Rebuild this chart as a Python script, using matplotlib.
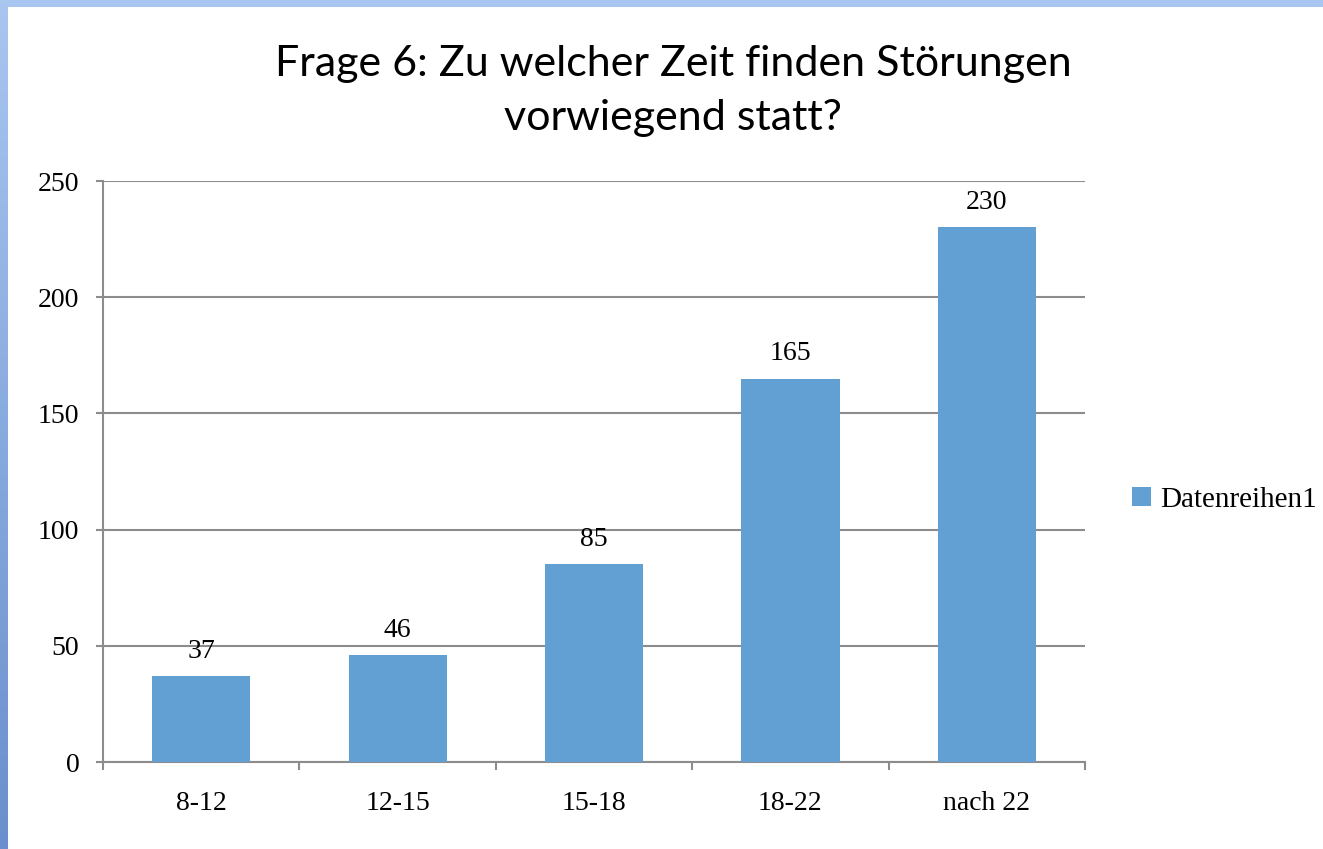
import numpy as np
import matplotlib
matplotlib.use("Agg")
import matplotlib.pyplot as plt
from matplotlib.colors import LinearSegmentedColormap

# data
categories = ["8-12", "12-15", "15-18", "18-22", "nach 22"]
values = [37, 46, 85, 165, 230]
series_name = "Datenreihen1"
title = "Frage 6: Zu welcher Zeit finden Störungen\nvorwiegend statt?"

bar_color = "#629fd3"
grid_color = "#8c8c8c"
serif = ["Liberation Serif", "DejaVu Serif"]

fig = plt.figure(figsize=(13.23, 8.49), dpi=100)

## slide frame: blue strip on top, gradient on the left
top = fig.add_axes([0, 1 - 7 / 849, 1, 7 / 849])
top.set_facecolor("#a9c6f0")
top.set_xticks([]); top.set_yticks([])
for s in top.spines.values():
    s.set_visible(False)

side = fig.add_axes([0, 0, 8 / 1323, 1])
cmap = LinearSegmentedColormap.from_list("frame", ["#a9c6f0", "#6a8fcc"])
side.imshow(np.linspace(0, 1, 200).reshape(-1, 1), aspect="auto", cmap=cmap)
side.axis("off")

## chart
ax = fig.add_axes([103 / 1323, 1 - 762 / 849, 982 / 1323, 581 / 849])
x = np.arange(len(categories))
bars = ax.bar(x, values, width=0.5, color=bar_color, label=series_name, zorder=3)

ax.set_xlim(-0.5, len(categories) - 0.5)
ax.set_ylim(0, 250)
ax.set_yticks(range(0, 251, 50))
ax.yaxis.grid(True, color=grid_color, linewidth=1.5, zorder=0)
ax.set_axisbelow(True)

for s in ["top", "right"]:
    ax.spines[s].set_visible(False)
for s in ["left", "bottom"]:
    ax.spines[s].set_color(grid_color)
    ax.spines[s].set_linewidth(1.5)

# x ticks sit between the categories, labels in the middle
ax.set_xticks(np.arange(-0.5, len(categories)), minor=False)
ax.set_xticklabels([])
ax.set_xticks(x, minor=True)
ax.set_xticklabels(categories, minor=True, family=serif, fontsize=20)
ax.tick_params(axis="x", which="major", length=6, width=1.5, color=grid_color)
ax.tick_params(axis="x", which="minor", length=0, pad=21)
ax.tick_params(axis="y", length=5, width=1.5, color=grid_color, pad=12)
for lab in ax.get_yticklabels():
    lab.set_family(serif)
    lab.set_fontsize(20)

for b, v in zip(bars, values):
    ax.annotate(str(v), (b.get_x() + b.get_width() / 2, v), xytext=(0, 18),
                textcoords="offset points", ha="center", va="center",
                family=serif, fontsize=20)

fig.text(673 / 1323, 1 - 91 / 849, title, ha="center", va="center",
         family=["Lato", "DejaVu Sans"], fontsize=31, linespacing=1.5)

leg = fig.legend(handles=[bars], labels=[series_name], loc="center left",
                 bbox_to_anchor=(1106 / 1323, 1 - 500 / 849), frameon=False,
                 prop={"family": serif, "size": 21}, handlelength=0.65,
                 handleheight=0.65, handletextpad=0.3)

fig.savefig("out.png", dpi=100)
